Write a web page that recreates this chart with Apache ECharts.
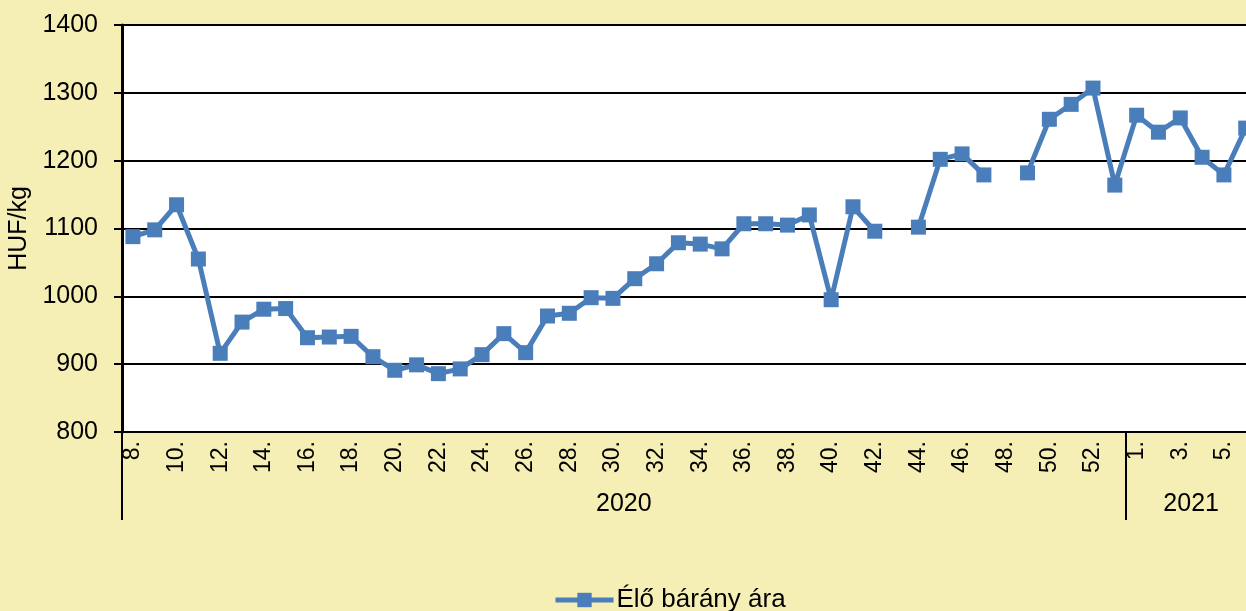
<!DOCTYPE html>
<html>
<head>
<meta charset="utf-8">
<script src="https://cdn.jsdelivr.net/npm/echarts@6/dist/echarts.min.js"></script>
<style>
  html, body { margin: 0; padding: 0; background: #F5EFB5; }
  #chart { width: 1246px; height: 611px; }
</style>
</head>
<body>
<div id="chart"></div>
<script>
// Weekly live lamb price, HUF/kg (2020 week 8 – 2021 week 6)
const weeks = [
  '8.', '9.', '10.', '11.', '12.', '13.', '14.', '15.', '16.', '17.',
  '18.', '19.', '20.', '21.', '22.', '23.', '24.', '25.', '26.', '27.',
  '28.', '29.', '30.', '31.', '32.', '33.', '34.', '35.', '36.', '37.',
  '38.', '39.', '40.', '41.', '42.', '43.', '44.', '45.', '46.', '47.',
  '48.', '49.', '50.', '51.', '52.', '53.',
  '1.', '2.', '3.', '4.', '5.', '6.'
];
const lambPrice = [
  1088, 1098, 1135, 1055, 916, 962, 981, 982, 939, 940,
  941, 911, 891, 899, 886, 893, 914, 945, 917, 971,
  975, 998, 997, 1026, 1048, 1079, 1077, 1070, 1107, 1107,
  1105, 1120, 995, 1132, 1096, null, 1102, 1202, 1210, 1179,
  null, 1182, 1261, 1283, 1307, 1164,
  1267, 1242, 1263, 1205, 1179, 1248
];
const seriesName = 'Élő bárány ára';
const years = ['2020', '2021'];
const yearWeekCounts = [46, 6];
const yTicks = { min: 800, max: 1400, step: 100 };

// Year groups: boundaries and centres on a band-index scale
const yearBounds = [-0.5];
const yearCenters = [];
yearWeekCounts.forEach((n, i) => {
  const start = yearBounds[i];
  yearBounds.push(start + n);
  yearCenters.push(start + n / 2);
});
const bandCount = weeks.length;
const gridLeft = 122, gridTop = 25, gridBottom = 179;
const bandWidth = 21.82;
const gridRight = 1246 - gridLeft - bandWidth * bandCount;

const black = '#000000';
const blue = '#4A7EBB';
const font = '"Liberation Sans", Arial, sans-serif';

const chart = echarts.init(document.getElementById('chart'), null, { renderer: 'canvas' });
chart.setOption({
  backgroundColor: '#F5EFB5',
  animation: false,
  grid: {
    left: gridLeft, top: gridTop, bottom: gridBottom, right: gridRight,
    outerBoundsMode: 'none', containLabel: false,
    show: true, backgroundColor: '#FFFFFF', borderWidth: 0
  },
  legend: {
    left: 548, top: 582,
    itemWidth: 58, itemHeight: 18, itemGap: 6,
    lineStyle: { width: 5 },
    textStyle: { fontFamily: font, fontSize: 26, color: black, padding: [0, 0, 0, -2] },
    data: [seriesName]
  },
  xAxis: [
    {
      type: 'category',
      data: weeks,
      boundaryGap: true,
      axisLine: { onZero: false, lineStyle: { color: black, width: 2 } },
      axisTick: { show: false },
      axisLabel: {
        interval: 1, rotate: 90, margin: 9,
        fontFamily: font, fontSize: 23, color: black
      },
      splitLine: { show: false }
    },
    {
      type: 'value',
      position: 'bottom',
      min: -0.5, max: bandCount - 0.5,
      axisLine: { show: false, onZero: false },
      splitLine: { show: false },
      axisTick: {
        show: true, length: 88, customValues: yearBounds.slice(0, -1),
        lineStyle: { color: black, width: 2 }
      },
      axisLabel: {
        customValues: yearCenters, margin: 60,
        fontFamily: font, fontSize: 25, color: black,
        formatter: v => years[yearCenters.indexOf(v)] || ''
      }
    }
  ],
  yAxis: {
    type: 'value',
    min: yTicks.min, max: yTicks.max, interval: yTicks.step,
    name: 'HUF/kg', nameLocation: 'middle', nameGap: 90, nameRotate: 90,
    nameTextStyle: { fontFamily: font, fontSize: 25, color: black },
    axisLine: { show: true, onZero: false, lineStyle: { color: black, width: 3 } },
    axisTick: { show: true, length: 8, lineStyle: { color: black, width: 2 } },
    axisLabel: {
      margin: 24, fontFamily: font, fontSize: 25, color: black,
      formatter: v => String(v)
    },
    splitLine: { show: true, lineStyle: { color: black, width: 2 } }
  },
  series: [{
    name: seriesName,
    type: 'line',
    xAxisIndex: 0,
    data: lambPrice,
    connectNulls: false,
    showAllSymbol: true,
    symbol: 'rect',
    symbolSize: 15,
    lineStyle: { color: blue, width: 5 },
    itemStyle: { color: blue },
    clip: false
  }]
});
</script>
</body>
</html>
